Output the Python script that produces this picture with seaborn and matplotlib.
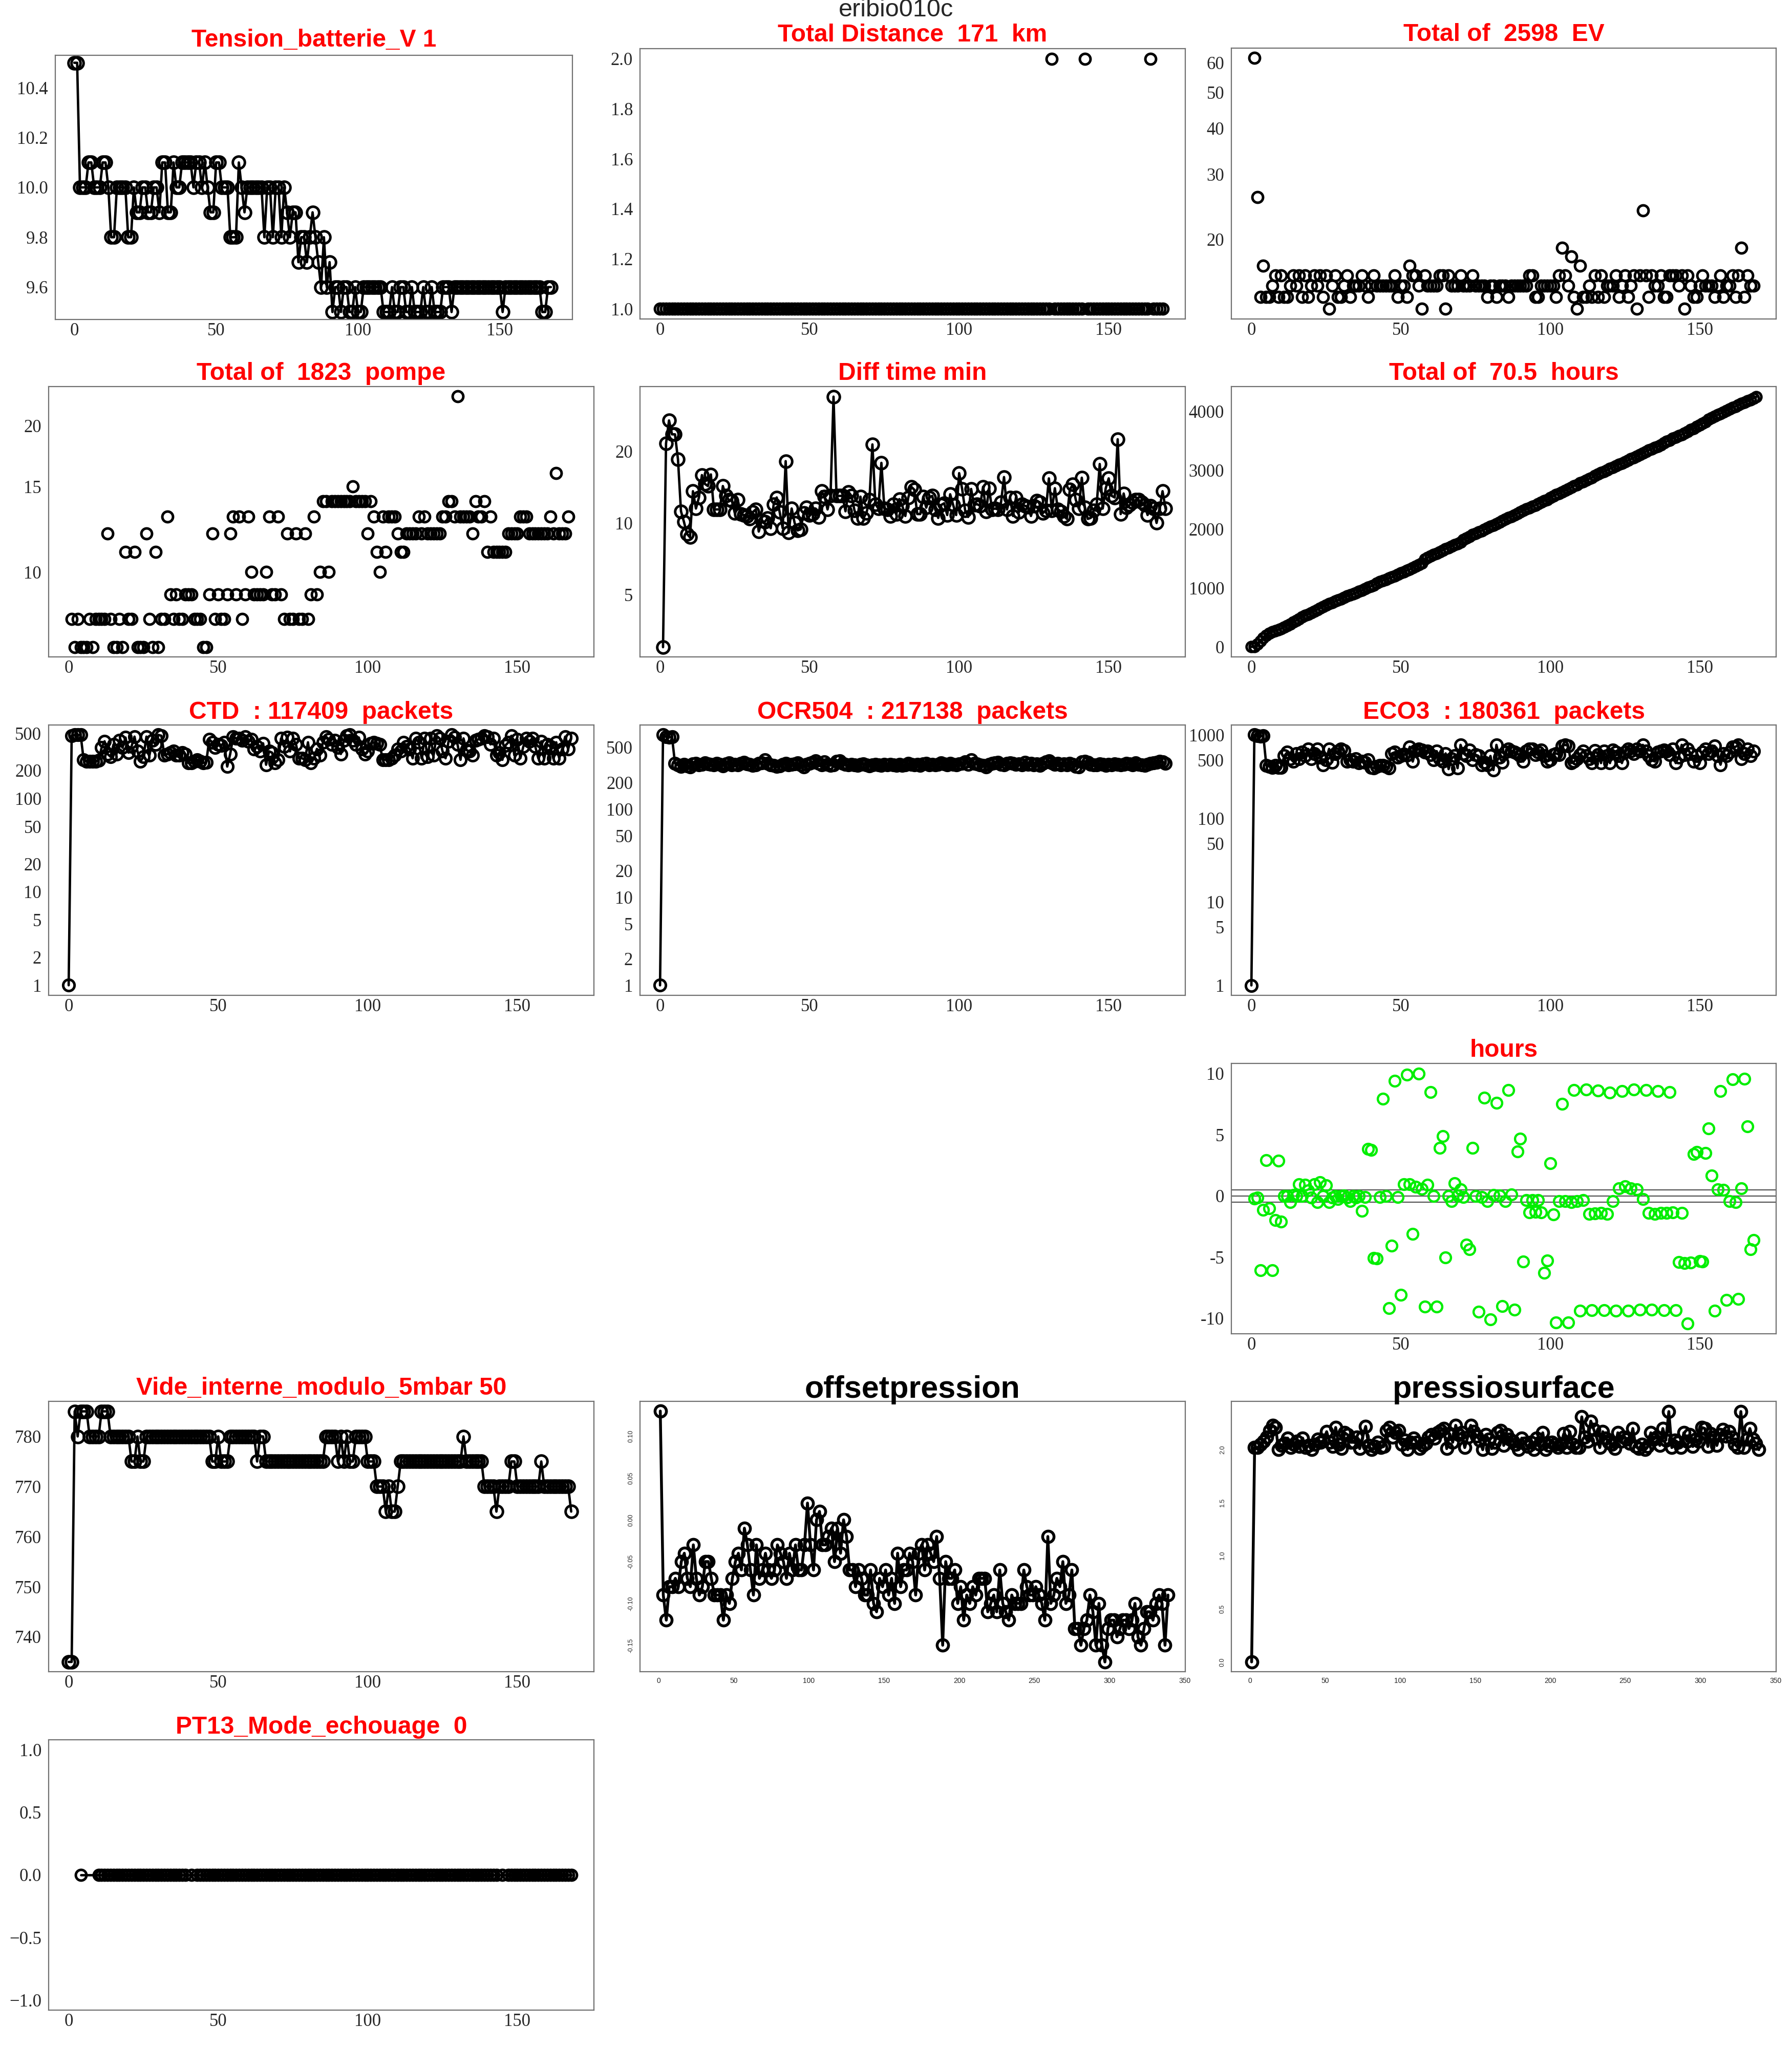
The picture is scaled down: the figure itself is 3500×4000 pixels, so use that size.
import numpy as np
import pandas as pd
import seaborn as sns
import matplotlib.pyplot as plt
from matplotlib.ticker import FixedLocator, FixedFormatter, NullLocator

# ---------------- data ----------------
tension = [10.5, 10.5, 10.0, 10.0, 10.0, 10.1, 10.1, 10.0, 10.0, 10.0,
           10.1, 10.1, 10.0, 9.8, 9.8, 10.0, 10.0, 10.0, 10.0, 9.8,
           9.8, 10.0, 9.9, 9.9, 10.0, 10.0, 9.9, 9.9, 10.0, 10.0,
           9.9, 10.1, 10.1, 9.9, 9.9, 10.1, 10.0, 10.0, 10.1, 10.1,
           10.1, 10.1, 10.0, 10.1, 10.1, 10.0, 10.1, 10.0, 9.9, 9.9,
           10.1, 10.1, 10.0, 10.0, 10.0, 9.8, 9.8, 9.8, 10.1, 10.0,
           9.9, 10.0, 10.0, 10.0, 10.0, 10.0, 10.0, 9.8, 10.0, 10.0,
           9.8, 10.0, 10.0, 9.8, 10.0, 9.9, 9.8, 9.9, 9.9, 9.7,
           9.8, 9.8, 9.7, 9.8, 9.9, 9.8, 9.7, 9.6, 9.8, 9.6,
           9.7, 9.5, 9.6, 9.6, 9.5, 9.6, 9.6, 9.5, 9.5, 9.6,
           9.5, 9.5, 9.6, 9.6, 9.6, 9.6, 9.6, 9.6, 9.6, 9.5,
           9.5, 9.5, 9.6, 9.5, 9.5, 9.6, 9.6, 9.5, 9.5, 9.6,
           9.5, 9.5, 9.5, 9.6, 9.5, 9.5, 9.6, 9.5, 9.5, 9.5,
           9.6, 9.6, 9.6, 9.5, 9.6, 9.6, 9.6, 9.6, 9.6, 9.6,
           9.6, 9.6, 9.6, 9.6, 9.6, 9.6, 9.6, 9.6, 9.6, 9.6,
           9.6, 9.5, 9.6, 9.6, 9.6, 9.6, 9.6, 9.6, 9.6, 9.6,
           9.6, 9.6, 9.6, 9.6, 9.6, 9.5, 9.5, 9.6, 9.6]

distance_km = [1] * 131 + [2] + [1] * 10 + [2] + [1] * 21 + [2] + [1] * 4

ev = [62, 26, 14, 17, 14, 14, 15, 16, 14, 16,
      14, 14, 15, 16, 15, 16, 14, 16, 14, 15,
      16, 15, 16, 14, 16, 13, 15, 16, 14, 14,
      15, 16, 14, 15, 15, 15, 16, 15, 14, 15,
      16, 15, 15, 15, 15, 15, 15, 16, 14, 15,
      15, 14, 17, 16, 16, 15, 13, 16, 15, 15,
      15, 15, 16, 16, 13, 16, 15, 15, 15, 16,
      15, 15, 15, 16, 15, 15, 15, 15, 14, 15,
      15, 14, 15, 15, 15, 14, 15, 15, 15, 15,
      15, 15, 16, 16, 14, 14, 15, 15, 15, 15,
      15, 14, 16, 19, 16, 15, 18, 14, 13, 17,
      14, 14, 15, 14, 16, 14, 16, 14, 15, 15,
      15, 16, 14, 15, 16, 14, 15, 16, 13, 16,
      24, 16, 14, 16, 15, 15, 16, 14, 14, 16,
      16, 16, 15, 16, 13, 16, 15, 14, 14, 15,
      16, 15, 15, 15, 14, 15, 16, 14, 15, 15,
      16, 14, 16, 19, 14, 16, 15, 15]

pompe = [8, 7, 8, 7, 7, 7, 8, 7, 8, 8,
         8, 8, 12, 8, 7, 7, 8, 7, 11, 8,
         8, 11, 7, 7, 7, 12, 8, 7, 11, 7,
         8, 8, 13, 9, 8, 9, 8, 8, 9, 9,
         9, 8, 8, 8, 7, 7, 9, 12, 8, 9,
         8, 8, 9, 12, 13, 9, 13, 8, 9, 13,
         10, 9, 9, 9, 9, 10, 13, 9, 9, 13,
         9, 8, 12, 8, 8, 12, 8, 8, 12, 8,
         9, 13, 9, 10, 14, 14, 10, 14, 14, 14,
         14, 14, 14, 14, 15, 14, 14, 14, 14, 12,
         14, 13, 11, 10, 13, 11, 13, 13, 13, 12,
         11, 11, 12, 12, 12, 12, 13, 12, 13, 12,
         12, 12, 12, 12, 13, 13, 14, 14, 13, 23,
         13, 13, 13, 13, 12, 14, 13, 13, 14, 11,
         13, 11, 11, 11, 11, 11, 12, 12, 12, 12,
         13, 13, 13, 12, 12, 12, 12, 12, 12, 12,
         13, 12, 16, 12, 12, 12, 13]

diff_min = [3.0, 21.6, 27.0, 23.6, 23.6, 18.5, 11.2, 10.1, 9.0, 8.7,
            13.6, 11.5, 12.8, 15.9, 14.6, 14.3, 16.0, 11.4, 11.4, 11.4,
            14.3, 13.0, 12.5, 12.4, 11.0, 12.5, 10.9, 10.8, 10.7, 10.4,
            11.1, 11.4, 9.2, 10.2, 10.1, 10.5, 9.5, 12.0, 12.8, 11.1,
            9.5, 18.2, 9.1, 11.5, 10.0, 9.3, 9.4, 11.0, 11.6, 10.8,
            10.9, 11.5, 10.6, 13.6, 12.9, 11.4, 13.0, 34.0, 13.0, 13.0,
            13.0, 11.2, 13.5, 13.0, 11.3, 10.5, 12.9, 10.5, 11.0, 12.5,
            21.4, 12.0, 11.5, 17.9, 11.5, 11.4, 10.7, 12.0, 10.9, 12.6,
            11.8, 10.7, 12.8, 14.2, 13.8, 10.9, 10.9, 12.9, 11.6, 12.8,
            13.0, 11.4, 10.5, 11.9, 12.1, 10.8, 13.2, 11.9, 10.8, 16.2,
            13.9, 11.3, 10.6, 13.9, 11.9, 12.0, 11.8, 14.2, 11.2, 14.0,
            11.4, 11.5, 11.4, 12.2, 15.6, 11.4, 12.8, 10.7, 12.8, 11.1,
            12.0, 11.8, 11.7, 10.7, 11.8, 12.4, 12.2, 11.0, 11.3, 15.4,
            11.3, 14.0, 11.4, 11.2, 10.7, 10.4, 13.8, 14.5, 12.5, 11.5,
            15.5, 11.6, 10.4, 10.5, 11.3, 12.0, 17.7, 11.5, 14.0, 15.4,
            13.0, 12.8, 22.5, 10.9, 13.3, 11.6, 11.9, 12.2, 12.5, 12.5,
            12.2, 11.9, 10.8, 11.8, 11.5, 10.0, 11.5, 13.6, 11.5]

hours_cum = [0, 6, 49, 103, 150, 197, 234, 256, 276, 294,
             311, 338, 361, 387, 419, 448, 477, 509, 532, 555,
             578, 607, 633, 658, 683, 705, 730, 752, 774, 795,
             816, 838, 861, 879, 899, 919, 940, 959, 983, 1009,
             1031, 1050, 1086, 1104, 1127, 1147, 1166, 1185, 1207, 1230,
             1252, 1274, 1297, 1318, 1345, 1371, 1394, 1420, 1488, 1514,
             1540, 1566, 1588, 1615, 1641, 1664, 1685, 1711, 1732, 1754,
             1779, 1822, 1846, 1869, 1905, 1928, 1951, 1972, 1996, 2018,
             2043, 2067, 2088, 2114, 2142, 2170, 2192, 2214, 2240, 2263,
             2289, 2315, 2338, 2359, 2383, 2407, 2429, 2455, 2479, 2501,
             2533, 2561, 2584, 2605, 2633, 2657, 2681, 2705, 2733, 2755,
             2783, 2806, 2829, 2852, 2876, 2907, 2930, 2956, 2977, 3003,
             3025, 3049, 3073, 3096, 3117, 3141, 3166, 3190, 3212, 3235,
             3266, 3289, 3317, 3340, 3362, 3383, 3404, 3432, 3461, 3486,
             3509, 3540, 3563, 3584, 3605, 3628, 3652, 3687, 3710, 3738,
             3769, 3795, 3821, 3866, 3888, 3915, 3938, 3962, 3986, 4011,
             4036, 4060, 4084, 4106, 4130, 4153, 4173, 4196, 4223, 4246]

ctd = [1, 470, 480, 480, 480, 260, 250, 250, 250, 250, 255,
       350, 410, 300, 280, 380, 300, 420, 350, 450, 310,
       360, 460, 320, 250, 280, 460, 290, 420, 380, 480,
       470, 290, 300, 310, 320, 290, 290, 310, 300, 240,
       240, 250, 260, 250, 240, 245, 430, 400, 350, 380,
       370, 400, 220, 300, 460, 440, 440, 420, 460, 410,
       430, 340, 360, 320, 390, 230, 320, 310, 240, 260,
       440, 360, 450, 320, 440, 380, 270, 270, 260, 400,
       240, 270, 340, 290, 400, 460, 430, 380, 420, 350,
       300, 420, 470, 480, 420, 380, 450, 340, 300, 320,
       390, 400, 390, 380, 260, 260, 260, 270, 290, 340,
       320, 400, 360, 340, 270, 440, 400, 270, 440, 280,
       440, 290, 470, 440, 320, 270, 410, 480, 450, 380,
       260, 440, 330, 320, 290, 420, 430, 440, 470, 460,
       380, 440, 290, 310, 260, 370, 400, 470, 290, 430,
       270, 360, 440, 410, 440, 360, 270, 410, 270, 380,
       360, 270, 400, 270, 340, 460, 340, 440]

ocr504 = [1, 700, 660, 650, 660,
          330, 315, 305, 320, 310, 300, 325, 330, 315, 320,
          335, 325, 320, 315, 330, 320, 310, 325, 335, 318,
          322, 315, 330, 340, 325, 320, 312, 318, 328, 335,
          360, 330, 318, 312, 305, 310, 322, 330, 316, 320,
          325, 335, 318, 300, 320, 330, 338, 355, 328, 316,
          345, 320, 312, 318, 350, 355, 330, 320, 315, 322,
          318, 312, 320, 325, 316, 310, 318, 322, 315, 312,
          320, 316, 322, 318, 314, 320, 312, 316, 330, 322,
          318, 320, 312, 325, 330, 316, 320, 318, 322, 335,
          326, 318, 330, 322, 316, 325, 330, 345, 320, 360,
          330, 325, 318, 312, 300, 322, 330, 335, 340, 320,
          316, 328, 335, 330, 320, 325, 315, 340, 322, 328,
          318, 325, 312, 330, 345, 355, 335, 320, 328, 318,
          325, 316, 330, 320, 305, 300, 345, 350, 340, 320,
          316, 318, 325, 322, 312, 320, 318, 325, 322, 316,
          320, 330, 325, 318, 335, 322, 316, 312, 320, 330,
          335, 340, 350, 345, 330]

eco3 = [1, 1000, 980, 960, 980, 430, 420, 410, 430, 410, 410,
        560, 620, 520, 480, 600, 520, 620, 560, 680, 520,
        600, 680, 540, 440, 500, 680, 470, 600, 640, 680,
        650, 480, 500, 480, 520, 460, 480, 470, 500, 410,
        400, 420, 430, 430, 420, 400, 600, 620, 540, 560,
        590, 570, 720, 480, 650, 680, 660, 620, 640, 580,
        500, 640, 520, 480, 600, 390, 520, 560, 400, 760,
        600, 560, 660, 500, 580, 560, 440, 470, 440, 560,
        380, 760, 540, 470, 620, 680, 640, 620, 600, 560,
        480, 640, 680, 680, 580, 620, 660, 560, 480, 500,
        580, 600, 580, 740, 760, 740, 460, 480, 520, 580,
        640, 560, 520, 460, 650, 580, 460, 640, 560, 460,
        660, 620, 560, 460, 620, 680, 640, 600, 680, 640,
        760, 640, 560, 500, 480, 620, 640, 660, 640, 580,
        680, 460, 540, 760, 580, 680, 600, 480, 560, 460,
        620, 680, 600, 640, 740, 560, 440, 600, 560, 620,
        720, 720, 760, 520, 600, 680, 560, 640]

hours_offset = [-0.2, -0.15, -6.07, -1.16, 2.9, -1.02, -6.07, -1.98, 2.86, -2.1,
                -0.03, -0.03, -0.53, 0.08, -0.03, 0.96, -0.03, 0.9, 0.46, -0.12,
                0.96, -0.53, 1.12, -0.03, 0.88, -0.53, -0.12, -0.03, -0.28, -0.03,
                0.05, -0.12, -0.45, -0.03, -0.12, -0.03, -1.24, -0.08, 3.85, 3.77,
                -5.07, -5.1, -0.08, 7.95, -0.03, -9.17, -4.05, 9.42, -0.08, -8.08,
                0.96, 9.92, 0.96, -3.12, 0.74, 10.0, 0.58, -9.07, 0.91, 8.5,
                -0.03, -9.04, 3.93, 4.88, -5.04, -0.03, -0.45, 1.04, 0.05, 0.55,
                -0.08, -4.0, -4.38, 3.93, -0.03, -9.45, -0.08, 8.02, -0.45, -10.1,
                0.08, 7.62, 0.05, -9.0, -0.45, 8.64, 0.13, -9.29, 3.64, 4.68,
                -5.36, -0.36, -1.36, -0.36, -1.32, -0.36, -1.36, -6.31, -5.29, 2.66,
                -1.52, -10.36, -0.45, 7.52, -0.45, -10.36, -0.53, 8.64, -0.45, -9.37,
                -0.33, 8.68, -1.47, -9.34, -1.44, 8.61, -1.4, -9.34, -1.47, 8.45,
                -0.45, -9.37, 0.63, 8.56, 0.79, -9.37, 0.63, 8.68, 0.55, -9.32,
                -0.25, 8.64, -1.4, -9.29, -1.47, 8.56, -1.4, -9.34, -1.4, 8.5,
                -1.36, -9.34, -5.4, -1.4, -5.49, -10.45, -5.44, 3.44, 3.6, -5.32,
                -5.37, 3.52, 5.5, 1.67, -9.4, 0.55, 8.56, 0.51, -8.51, -0.45,
                9.55, -0.5, -8.41, 0.63, 9.59, 5.67, -4.38, -3.59]
hours_lines = [-0.5, 0, 0.5]

vide = [735, 735, 785, 780, 785, 785, 785, 780, 780, 780,
        780, 785, 785, 785, 780, 780, 780, 780, 780, 780,
        780, 775, 775, 780, 775, 775, 780, 780, 780, 780,
        780, 780, 780, 780, 780, 780, 780, 780, 780, 780,
        780, 780, 780, 780, 780, 780, 780, 780, 775, 775,
        780, 775, 775, 775, 780, 780, 780, 780, 780, 780,
        780, 780, 780, 775, 780, 780, 775, 775, 775, 775,
        775, 775, 775, 775, 775, 775, 775, 775, 775, 775,
        775, 775, 775, 775, 775, 775, 780, 780, 780, 780,
        775, 780, 775, 780, 775, 775, 780, 780, 780, 780,
        775, 775, 775, 770, 770, 770, 765, 770, 765, 765,
        770, 775, 775, 775, 775, 775, 775, 775, 775, 775,
        775, 775, 775, 775, 775, 775, 775, 775, 775, 775,
        775, 775, 780, 775, 775, 775, 775, 775, 775, 770,
        770, 770, 770, 765, 770, 770, 770, 770, 775, 775,
        770, 770, 770, 770, 770, 770, 770, 770, 775, 770,
        770, 770, 770, 770, 770, 770, 770, 770, 765]

offsetpression = [0.13, -0.09, -0.12, -0.08, -0.08, -0.07, -0.08, -0.05, -0.04, -0.07,
                  -0.08, -0.03, -0.07, -0.09, -0.08, -0.05, -0.05, -0.07, -0.09, -0.09,
                  -0.09, -0.12, -0.09, -0.10, -0.07, -0.05, -0.04, -0.06, -0.01, -0.03,
                  -0.06, -0.09, -0.03, -0.07, -0.06, -0.04, -0.06, -0.07, -0.06, -0.03,
                  -0.04, -0.05, -0.07, -0.04, -0.06, -0.03, -0.06, -0.06, -0.03, 0.02,
                  -0.03, -0.06, 0.00, 0.01, -0.03, -0.03, -0.02, -0.01, -0.05, -0.01,
                  -0.04, 0.00, -0.02, -0.06, -0.06, -0.08, -0.06, -0.07, -0.09, -0.09,
                  -0.06, -0.10, -0.11, -0.07, -0.08, -0.06, -0.09, -0.07, -0.10, -0.04,
                  -0.08, -0.06, -0.06, -0.04, -0.05, -0.09, -0.04, -0.03, -0.06, -0.03,
                  -0.04, -0.05, -0.02, -0.07, -0.15, -0.05, -0.07, -0.07, -0.06, -0.10,
                  -0.08, -0.12, -0.09, -0.10, -0.08, -0.09, -0.07, -0.07, -0.07, -0.11,
                  -0.10, -0.09, -0.11, -0.06, -0.10, -0.11, -0.12, -0.09, -0.10, -0.10,
                  -0.10, -0.06, -0.08, -0.09, -0.09, -0.08, -0.09, -0.10, -0.12, -0.02,
                  -0.10, -0.09, -0.07, -0.08, -0.05, -0.10, -0.09, -0.06, -0.13, -0.13,
                  -0.15, -0.13, -0.12, -0.09, -0.11, -0.15, -0.10, -0.15, -0.17, -0.13,
                  -0.12, -0.12, -0.14, -0.13, -0.12, -0.12, -0.13, -0.12, -0.10, -0.14,
                  -0.15, -0.13, -0.11, -0.11, -0.12, -0.10, -0.09, -0.10, -0.15, -0.09]

pressiosurface = [0.00, 2.02, 2.02, 2.05, 2.08, 2.12, 2.18, 2.23, 2.21, 2.00,
                  2.04, 2.06, 2.11, 2.02, 2.05, 2.08, 2.03, 2.11, 2.02, 2.04,
                  2.00, 2.05, 2.10, 2.07, 2.09, 2.17, 2.07, 2.03, 2.21, 2.05,
                  2.01, 2.16, 2.14, 2.07, 2.07, 2.12, 2.01, 2.12, 2.22, 2.04,
                  2.00, 2.03, 2.07, 2.02, 2.03, 2.18, 2.21, 2.12, 2.16, 2.18,
                  2.05, 2.09, 2.00, 2.07, 2.11, 2.07, 2.01, 2.04, 2.06, 2.12,
                  2.14, 2.11, 2.16, 2.18, 2.20, 2.01, 2.15, 2.07, 2.23, 2.14,
                  2.16, 2.02, 2.12, 2.23, 2.17, 2.13, 2.09, 2.00, 2.14, 2.10,
                  2.01, 2.07, 2.16, 2.18, 2.04, 2.14, 2.10, 2.08, 2.05, 2.00,
                  2.11, 2.06, 2.03, 2.07, 2.00, 2.11, 2.05, 2.16, 2.00, 2.04,
                  2.07, 2.05, 2.02, 2.05, 2.15, 2.02, 2.17, 2.05, 2.02, 2.02,
                  2.31, 2.12, 2.08, 2.27, 2.19, 2.11, 2.02, 2.17, 2.11, 2.07,
                  2.05, 2.01, 2.16, 2.08, 2.12, 2.10, 2.06, 2.20, 2.03, 2.01,
                  2.05, 2.00, 2.03, 2.16, 2.10, 2.12, 2.04, 2.20, 2.09, 2.36,
                  2.02, 2.09, 2.07, 2.02, 2.16, 2.08, 2.14, 2.03, 2.10, 2.08,
                  2.21, 2.20, 2.03, 2.15, 2.12, 2.04, 2.14, 2.19, 2.13, 2.17,
                  2.12, 2.05, 2.02, 2.36, 2.02, 2.10, 2.20, 2.10, 2.06, 2.00]

pt13_x = [4] + list(range(10, 40)) + [41] + list(range(43, 144)) + [145] + list(range(147, 169))
pt13 = [0] * len(pt13_x)

# ---------------- figure ----------------
sns.set_theme(style="white")
plt.rcParams["font.family"] = ["Liberation Serif", "DejaVu Serif"]

W, H = 3500, 4000
fig = plt.figure(figsize=(35, 40), dpi=100)
fig.patch.set_facecolor("white")


def box(l, t, r, b):
    return [l / W, 1 - b / H, (r - l) / W, (b - t) / H]


def make_ax(rect, title, xlim, ylim, yticks, ylabels=None, log=False,
            xticks=(0, 50, 100, 150), small=False, red=True, pad=9):
    ax = fig.add_axes(box(*rect))
    if log:
        ax.set_yscale("log")
    ax.set_xlim(*xlim)
    ax.set_ylim(*ylim)
    ax.xaxis.set_major_locator(FixedLocator(xticks))
    ax.yaxis.set_major_locator(FixedLocator(yticks))
    ax.xaxis.set_major_formatter(FixedFormatter([str(t) for t in xticks]))
    ax.yaxis.set_major_formatter(FixedFormatter(ylabels if ylabels else [str(t) for t in yticks]))
    ax.xaxis.set_minor_locator(NullLocator())
    ax.yaxis.set_minor_locator(NullLocator())
    for s in ax.spines.values():
        s.set_color("#707070")
        s.set_linewidth(1.6)
    if small:
        ax.tick_params(axis="both", which="major", direction="out", length=4,
                       width=1.2, color="#707070", pad=4)
        for lab in ax.get_xticklabels():
            lab.set_fontfamily("Liberation Sans")
            lab.set_fontsize(10)
        for lab in ax.get_yticklabels():
            lab.set_fontfamily("Liberation Sans")
            lab.set_fontsize(9)
            lab.set_rotation(90)
            lab.set_va("center")
    else:
        ax.tick_params(axis="y", which="major", direction="out", length=6,
                       width=1.4, color="#707070", pad=4, labelsize=25)
        ax.tick_params(axis="x", which="major", direction="out", length=2,
                       width=1.4, color="#707070", pad=2, labelsize=25)
    ax.set_title(title, color="red" if red else "black", fontweight="bold",
                 fontsize=34.5 if red else 44, family="Liberation Sans", pad=pad)
    ax.set_xlabel("")
    ax.set_ylabel("")
    return ax


def draw(ax, x, y, lines=True, color="black", ms=16, lw=3.4, mew=3.6):
    sns.lineplot(x=x, y=y, ax=ax, sort=False, estimator=None, color=color,
                 linewidth=lw if lines else 0, linestyle="-" if lines else "none",
                 marker="o", markersize=ms, markerfacecolor="none",
                 markeredgecolor=color, markeredgewidth=mew)


XL = (-6.7, 175.6)

# row 1
ax = make_ax((108, 108, 1118, 624), "Tension_batterie_V 1", XL, (9.47, 10.53),
             [9.6, 9.8, 10.0, 10.2, 10.4], ["9.6", "9.8", "10.0", "10.2", "10.4"], pad=12)
draw(ax, np.arange(len(tension)), tension, ms=17)

ax = make_ax((1250, 95, 2315, 623), "Total Distance  171  km", XL, (0.96, 2.04),
             [1.0, 1.2, 1.4, 1.6, 1.8, 2.0], ["1.0", "1.2", "1.4", "1.6", "1.8", "2.0"], pad=10)
draw(ax, np.arange(len(distance_km)), distance_km, lines=False, ms=15)

ax = make_ax((2405, 94, 3469, 623), "Total of  2598  EV", XL, (12.2, 65.8),
             [20, 30, 40, 50, 60], log=True, pad=10)
draw(ax, np.arange(1, len(ev) + 1), ev, lines=False, ms=15)

# row 2
ax = make_ax((95, 755, 1160, 1283), "Total of  1823  pompe", XL, (6.69, 24.1),
             [10, 15, 20], log=True)
draw(ax, np.arange(1, len(pompe) + 1), pompe, lines=False, ms=15)

ax = make_ax((1250, 755, 2315, 1283), "Diff time min", XL, (2.73, 37.5),
             [5, 10, 20], log=True)
draw(ax, np.arange(1, len(diff_min) + 1), diff_min, ms=17)

ax = make_ax((2405, 755, 3469, 1283), "Total of  70.5  hours", XL, (-170, 4420),
             [0, 1000, 2000, 3000, 4000])
draw(ax, np.arange(len(hours_cum)), hours_cum, ms=14)

# row 3
log_ticks = [1, 2, 5, 10, 20, 50, 100, 200, 500]
ax = make_ax((95, 1416, 1160, 1944), "CTD  : 117409  packets", XL, (0.78, 613), log_ticks, log=True)
draw(ax, np.arange(len(ctd)), ctd)

ax = make_ax((1250, 1416, 2315, 1944), "OCR504  : 217138  packets", XL, (0.77, 900), log_ticks, log=True)
draw(ax, np.arange(len(ocr504)), ocr504)

ax = make_ax((2405, 1416, 3469, 1944), "ECO3  : 180361  packets", XL, (0.76, 1315),
             [1, 5, 10, 50, 100, 500, 1000], log=True)
draw(ax, np.arange(len(eco3)), eco3)

# row 4
ax = make_ax((2405, 2077, 3469, 2605), "hours", XL, (-11.27, 10.83), [-10, -5, 0, 5, 10])
for h in hours_lines:
    ax.axhline(h, color="#555555", linewidth=1.6, zorder=1)
draw(ax, np.arange(1, len(hours_offset) + 1), hours_offset, lines=False,
     color="#00ee00", ms=15, mew=3.2)

# row 5
ax = make_ax((95, 2737, 1160, 3265), "Vide_interne_modulo_5mbar 50", XL, (733.05, 787.0),
             [740, 750, 760, 770, 780])
draw(ax, np.arange(len(vide)), vide, ms=17)

XL2 = (-12.5, 350.5)
ax = make_ax((1250, 2737, 2315, 3265), "offsetpression", XL2, (-0.1816, 0.1416),
             [-0.15, -0.10, -0.05, 0.00, 0.05, 0.10],
             ["-0.15", "-0.10", "-0.05", "0.00", "0.05", "0.10"],
             xticks=(0, 50, 100, 150, 200, 250, 300, 350), small=True, red=False, pad=5)
draw(ax, np.arange(1, 2 * len(offsetpression), 2), offsetpression, lw=4.0, ms=16, mew=4.0)

ax = make_ax((2405, 2737, 3469, 3265), "pressiosurface", XL2, (-0.092, 2.456),
             [0.0, 0.5, 1.0, 1.5, 2.0], ["0.0", "0.5", "1.0", "1.5", "2.0"],
             xticks=(0, 50, 100, 150, 200, 250, 300, 350), small=True, red=False, pad=5)
draw(ax, np.arange(1, 2 * len(pressiosurface), 2), pressiosurface, lw=4.0, ms=16, mew=4.0)

# row 6
ax = make_ax((95, 3398, 1160, 3926), "PT13_Mode_echouage  0", XL, (-1.08, 1.08),
             [-1.0, -0.5, 0.0, 0.5, 1.0], ["\u22121.0", "\u22120.5", "0.0", "0.5", "1.0"])
draw(ax, pt13_x, pt13, ms=15)

fig.text(1750 / W, 1 - 20 / H, "eribio010c", ha="center", va="center",
         fontsize=35, family="Liberation Sans")

fig.savefig("out.png", dpi=100, facecolor="white")
